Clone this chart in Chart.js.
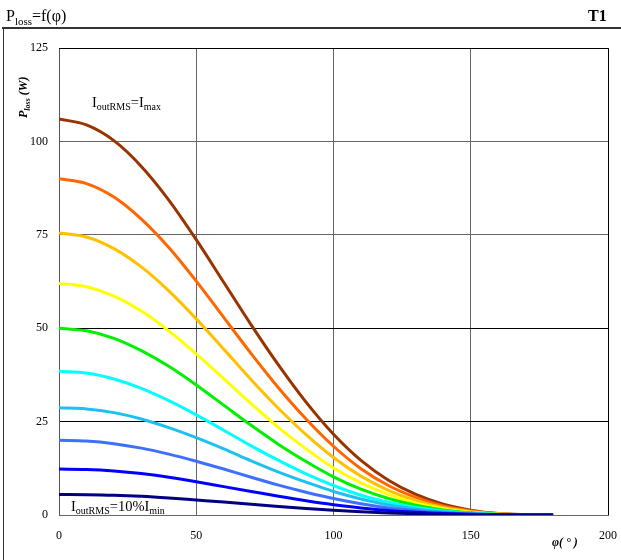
<!DOCTYPE html>
<html>
<head>
<meta charset="utf-8">
<script src="https://cdn.jsdelivr.net/npm/chart.js@4.4.1/dist/chart.umd.min.js"></script>
<style>
  html, body { margin: 0; padding: 0; background: #fff; }
  #wrap { width: 621px; height: 560px; position: relative; }
</style>
</head>
<body>
<div id="wrap"><canvas id="lossChart" width="621" height="560"></canvas></div>
<script>
// phase angle (deg)
const phi = [0, 10, 20, 30, 40, 50, 60, 70, 80, 90, 100, 110, 120, 130, 140, 150, 160, 170, 180];

// P_loss (W) for each output current, smallest to largest
const p10 = [5.5, 5.45, 5.3, 5.0, 4.55, 4.0, 3.45, 2.85, 2.25, 1.72, 1.25, 0.87, 0.56, 0.34, 0.18, 0.08, 0.03, 0.01, 0];
const p20 = [12.3, 12.2, 11.8, 11.1, 10.1, 8.9, 7.6, 6.3, 5.0, 3.8, 2.75, 1.9, 1.2, 0.72, 0.38, 0.17, 0.06, 0.01, 0];
const p30 = [20, 19.8, 19.1, 17.9, 16.3, 14.4, 12.3, 10.1, 8.0, 6.1, 4.4, 3.0, 1.9, 1.15, 0.6, 0.26, 0.1, 0.02, 0];
const p40 = [28.7, 28.4, 27.4, 25.7, 23.4, 20.7, 17.7, 14.5, 11.5, 8.8, 6.3, 4.3, 2.7, 1.6, 0.85, 0.37, 0.14, 0.03, 0];
const p50 = [38.5, 38.0, 36.4, 33.9, 30.6, 26.8, 22.7, 18.5, 14.6, 11.0, 7.9, 5.3, 3.4, 2.0, 1.05, 0.45, 0.15, 0.04, 0];
const p60 = [50, 49.3, 47.3, 44.0, 39.8, 34.8, 29.4, 24.0, 18.9, 14.3, 10.2, 6.9, 4.4, 2.6, 1.35, 0.6, 0.2, 0.05, 0];
const p70 = [62, 61.1, 58.6, 54.6, 49.3, 43.1, 36.5, 29.8, 23.4, 17.7, 12.6, 8.6, 5.5, 3.2, 1.7, 0.75, 0.25, 0.05, 0];
const p80 = [75.5, 74.4, 71.3, 66.4, 60.0, 52.5, 44.4, 36.2, 28.5, 21.5, 15.4, 10.4, 6.6, 3.9, 2.0, 0.9, 0.3, 0.1, 0];
const p90 = [90, 88.7, 85.1, 79.2, 71.6, 62.6, 52.9, 43.2, 34.0, 25.7, 18.4, 12.4, 7.9, 4.7, 2.4, 1.1, 0.35, 0.1, 0];
const p100 = [106, 104.4, 100.2, 93.3, 84.3, 73.7, 62.3, 50.9, 40.1, 30.2, 21.6, 14.6, 9.3, 5.5, 2.9, 1.3, 0.4, 0.1, 0];

const seriesValues = [p10, p20, p30, p40, p50, p60, p70, p80, p90, p100];
const seriesNames = ['10%', '20%', '30%', '40%', '50%', '60%', '70%', '80%', '90%', '100%'];
const seriesColors = ['#000080', '#0000ff', '#3f6fff', '#1ec0f0', '#00ffff', '#00f000', '#ffff00', '#ffc000', '#ff6600', '#993300'];

const xTicks = [0, 50, 100, 150, 200];
const yTicks = [0, 25, 50, 75, 100, 125];

const serif = '"Liberation Serif", "DejaVu Serif", serif';

// draws a run of [text, isSub] pieces
function drawParts(ctx, parts, x, y, size, weight) {
    let cx = x;
    parts.forEach(p => {
        const sub = p[1];
        ctx.font = (weight || '') + ' ' + (sub ? Math.round(size * 0.68) : size) + 'px ' + serif;
        ctx.fillText(p[0], cx, sub ? y + size * 0.22 : y);
        cx += ctx.measureText(p[0]).width;
    });
}

const decorations = {
    id: 'decorations',
    afterDraw(chart) {
        const ctx = chart.ctx;
        ctx.save();
        ctx.fillStyle = '#000';
        ctx.textBaseline = 'alphabetic';
        ctx.textAlign = 'left';

        // header
        drawParts(ctx, [['P', 0], ['loss', 1], ['=f(φ)', 0]], 6, 21, 16, '');
        ctx.font = 'bold 16px ' + serif;
        ctx.fillText('T1', 588, 21);

        ctx.strokeStyle = '#333';
        ctx.lineWidth = 2;
        ctx.beginPath();
        ctx.moveTo(2, 28);
        ctx.lineTo(621, 28);
        ctx.stroke();
        ctx.lineWidth = 1;
        ctx.beginPath();
        ctx.moveTo(3.5, 28);
        ctx.lineTo(3.5, 560);
        ctx.stroke();

        // curve labels
        drawParts(ctx, [['I', 0], ['outRMS', 1], ['=I', 0], ['max', 1]], 92, 107, 14.5, '');
        drawParts(ctx, [['I', 0], ['outRMS', 1], ['=10%I', 0], ['min', 1]], 71, 511, 14.5, '');

        // y axis title
        ctx.save();
        ctx.translate(27, 118);
        ctx.rotate(-Math.PI / 2);
        drawParts(ctx, [['P', 0], ['loss', 1], [' (W)', 0]], 0, 0, 12, 'italic bold');
        ctx.restore();

        // x axis title
        drawParts(ctx, [['φ( ° )', 0]], 552, 546, 12, 'italic bold');
        ctx.restore();
    }
};

const gridColor = v => (v === 25 || v === 50) ? '#000' : '#666';

new Chart(document.getElementById('lossChart'), {
    type: 'line',
    data: {
        labels: phi,
        datasets: seriesValues.map((vals, i) => ({
            label: seriesNames[i],
            data: vals.map((v, j) => ({ x: phi[j], y: v })),
            borderColor: seriesColors[i],
            borderWidth: 3,
            pointRadius: 0,
            cubicInterpolationMode: 'monotone',
            fill: false
        }))
    },
    options: {
        responsive: false,
        animation: false,
        layout: { padding: { top: 48, right: 13, left: 0, bottom: 0 } },
        plugins: {
            legend: { display: false },
            tooltip: { enabled: false }
        },
        scales: {
            x: {
                type: 'linear',
                min: 0,
                max: 200,
                afterFit: s => { s.height = 45; s.paddingRight = 0; s.paddingLeft = 0; },
                afterBuildTicks: s => { s.ticks = xTicks.map(v => ({ value: v })); },
                grid: { color: '#666', lineWidth: 1, drawTicks: false },
                border: { color: '#666' },
                ticks: { padding: 14, color: '#000', font: { family: serif, size: 12 } }
            },
            y: {
                min: 0,
                max: 125,
                afterFit: s => { s.width = 59; s.paddingTop = 0; s.paddingBottom = 0; },
                afterBuildTicks: s => { s.ticks = yTicks.map(v => ({ value: v })); },
                grid: { color: c => gridColor(c.tick ? c.tick.value : null), lineWidth: 1, drawTicks: false },
                border: { color: '#555' },
                ticks: { padding: 11, color: '#000', font: { family: serif, size: 12 } }
            }
        }
    },
    plugins: [decorations, {
        id: 'frame',
        afterDraw(chart) {
            const a = chart.chartArea, ctx = chart.ctx;
            ctx.save();
            ctx.strokeStyle = '#000';
            ctx.lineWidth = 1;
            ctx.beginPath();
            ctx.moveTo(a.left, a.top + 0.5);
            ctx.lineTo(a.right + 0.5, a.top + 0.5);
            ctx.lineTo(a.right + 0.5, a.bottom);
            ctx.stroke();
            ctx.restore();
        }
    }]
});
</script>
</body>
</html>
